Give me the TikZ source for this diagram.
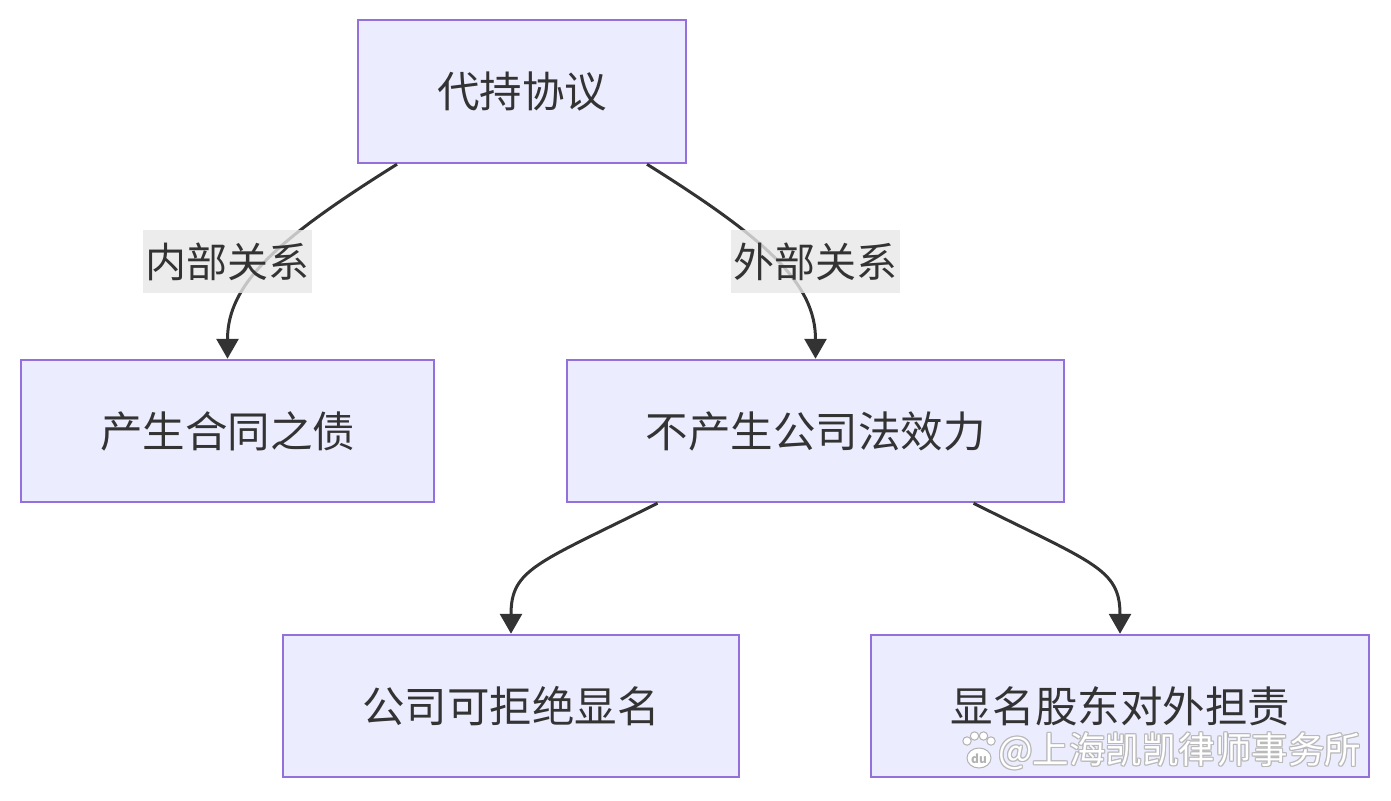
\documentclass[tikz,border=0pt]{standalone}
\usepackage{fontspec}
\setmainfont{Noto Sans CJK SC}
\usetikzlibrary{arrows.meta}
\definecolor{nodefill}{HTML}{ECECFF}
\definecolor{nodeline}{HTML}{9370DB}
\definecolor{edgecol}{HTML}{333333}
\definecolor{labelfill}{HTML}{E8E8E8}
\tikzset{
  box/.style={draw=nodeline, fill=nodefill, line width=2.5pt, inner sep=0pt,
    text=edgecol, font=\fontsize{42.5}{48}\selectfont, anchor=center},
  edge/.style={draw=edgecol, line width=3pt, -{Triangle[length=20pt,width=22pt]}},
  elabel/.style={fill=labelfill, fill opacity=0.8, text opacity=1, text=edgecol,
    inner sep=0pt, minimum width=169pt, minimum height=63pt,
    font=\fontsize{41}{48}\selectfont},
  wm/.style={font=\fontsize{36.5}{40}\selectfont, anchor=west, inner sep=0pt}
}
\begin{document}
\begin{tikzpicture}[x=1pt,y=-1pt]
\useasboundingbox[fill=white] (0,0) rectangle (1391,800);
\node[box, minimum width=328pt, minimum height=143pt] (A) at (522,91.5) {代持协议};
\node[box, minimum width=413pt, minimum height=142pt] (B) at (227.5,431) {产生合同之债};
\node[box, minimum width=497pt, minimum height=142pt] (C) at (815.5,431) {不产生公司法效力};
\node[box, minimum width=456pt, minimum height=142pt] (D) at (511,706) {公司可拒绝显名};
\node[box, minimum width=498pt, minimum height=142pt] (E) at (1120,706) {显名股东对外担责};

\draw[edge] ([xshift=-125pt]A.south) .. controls +(-120,75) and +(0,-75) .. (B.north);
\draw[edge] ([xshift=125pt]A.south) .. controls +(120,75) and +(0,-75) .. (C.north);
\draw[edge] ([xshift=-158pt]C.south) .. controls +(-120,60) and +(0,-65) .. (D.north);
\draw[edge] ([xshift=158pt]C.south) .. controls +(120,60) and +(0,-65) .. (E.north);

\node[elabel] (L1) at (227.5,261.5) {内部关系};
\node[elabel] (L2) at (815.5,261.5) {外部关系};

% watermark
\begin{scope}
  \foreach \dx/\dy in {-1.2/0,1.2/0,0/-1.2,0/1.2,-0.9/-0.9,0.9/0.9,-0.9/0.9,0.9/-0.9}{
    \node[wm, text=gray!55] at (998+\dx,751+\dy) {@上海凯凯律师事务所};
  }
  \node[wm, text=white] (WM) at (998,751) {@上海凯凯律师事务所};
  % paw logo
  \foreach \px/\py/\r in {967/741/4.2, 974.5/736/4.2, 983.5/736/4.2, 991/741/4.2}{
    \fill[white, draw=gray!60, line width=1pt] (\px,\py) circle (\r);
  }
  \fill[white, draw=gray!60, line width=1pt] (979,758) ellipse (12 and 10);
  \node[font=\fontsize{12}{12}\selectfont\bfseries, text=gray!60, inner sep=0pt] (du) at (979,759) {du};
\end{scope}
\end{tikzpicture}
\end{document}
